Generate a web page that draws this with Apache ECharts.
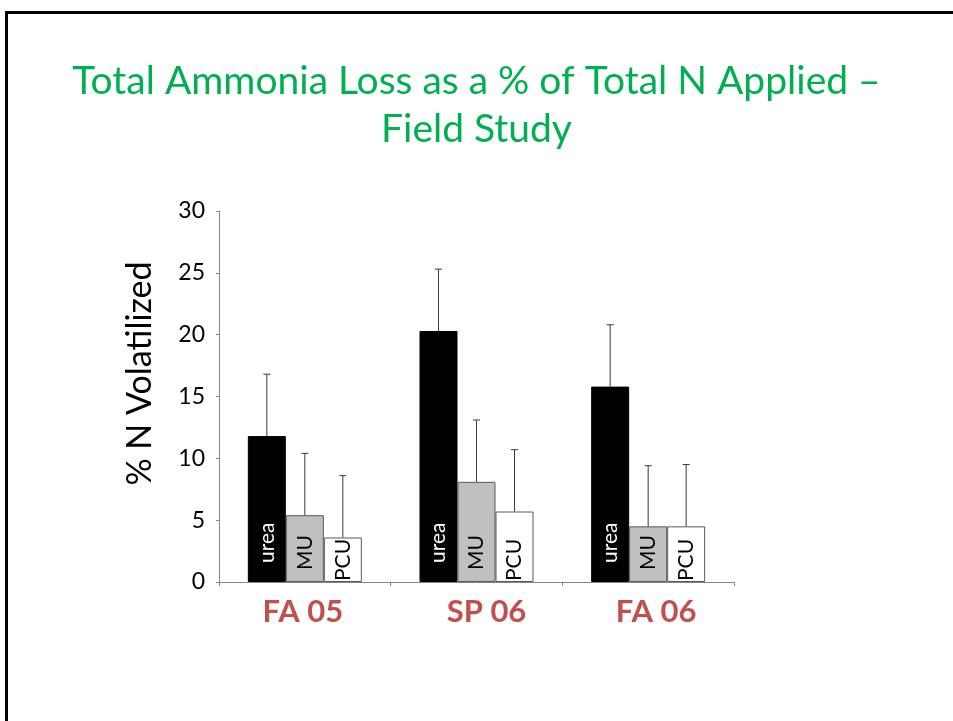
<!DOCTYPE html>
<html>
<head>
<meta charset="utf-8">
<title>Total Ammonia Loss</title>
<script src="https://cdn.jsdelivr.net/npm/echarts@6/dist/echarts.min.js"></script>
<style>
  html, body {
    margin: 0;
    padding: 0;
    background: #fff;
    overflow: hidden;
  }
  .slide-border {
    position: absolute;
    left: 5px;
    top: 11px;
    width: 2000px;
    height: 2000px;
    border-top: 3px solid #000;
    border-left: 3px solid #000;
  }
  #chart {
    position: absolute;
    left: 0;
    top: 0;
    width: 953px;
    height: 721px;
  }
</style>
</head>
<body>
<div class="slide-border"></div>
<div id="chart"></div>
<script>
const categories = ['FA 05', 'SP 06', 'FA 06']
const seriesNames = ['urea', 'MU', 'PCU']

const ureaValues = [11.8, 20.3, 15.8]
const muValues = [5.4, 8.1, 4.5]
const pcuValues = [3.6, 5.7, 4.5]

// upper error (SE), only drawn above the bar
const ureaErr = [5.0, 5.0, 5.0]
const muErr = [5.0, 5.0, 4.9]
const pcuErr = [5.0, 5.0, 5.0]

const yTicks = { min: 0, max: 30, interval: 5 }

const font = 'Lato'
const barWidth = 38
const barColors = ['#000000', '#c0c0c0', '#ffffff']
const labelColors = ['#ffffff', '#000000', '#000000']
const labelDistance = [19, 12, 1]

const allValues = [ureaValues, muValues, pcuValues]
const allErr = [ureaErr, muErr, pcuErr]

const chart = echarts.init(document.getElementById('chart'))

const barSeries = seriesNames.map((name, k) => ({
  name: name,
  type: 'bar',
  barWidth: barWidth,
  barGap: 0,
  data: allValues[k],
  itemStyle: {
    color: barColors[k],
    borderColor: k === 0 ? '#000' : '#595959',
    borderWidth: 1
  },
  label: {
    show: true,
    position: 'insideBottom',
    distance: labelDistance[k],
    rotate: 90,
    align: 'left',
    verticalAlign: 'middle',
    formatter: name,
    color: labelColors[k],
    fontFamily: font,
    fontSize: 21
  },
  silent: true
}))

// error bars: [category, value, value + err, series index]
const errData = []
allValues.forEach((vals, k) => {
  vals.forEach((v, i) => {
    errData.push([i, v, v + allErr[k][i], k])
  })
})

const errSeries = {
  type: 'custom',
  z: 5,
  silent: true,
  data: errData,
  encode: { x: 0, y: [1, 2] },
  renderItem: function (params, api) {
    const k = api.value(3)
    const low = api.coord([api.value(0), api.value(1)])
    const high = api.coord([api.value(0), api.value(2)])
    const x = low[0] + (k - 1) * barWidth
    const cap = 3.5
    const style = { stroke: '#3a3a3a', lineWidth: 1 }
    return {
      type: 'group',
      children: [
        { type: 'line', shape: { x1: x, y1: low[1], x2: x, y2: high[1] }, style: style },
        { type: 'line', shape: { x1: x - cap, y1: high[1], x2: x + cap, y2: high[1] }, style: style }
      ]
    }
  }
}

// small per-label nudges so the season labels sit like the slide
const catPad = [[0, 4, 0, 0], [0, 0, 0, 20], [0, 0, 0, 16]]
const catRich = {}
catPad.forEach((p, i) => {
  catRich['c' + i] = {
    padding: p,
    color: '#c0504d',
    fontFamily: font,
    fontWeight: 'bold',
    fontSize: 31
  }
})

chart.setOption({
  animation: false,
  title: {
    text: 'Total Ammonia Loss as a % of Total N Applied –\nField Study',
    left: 'center',
    top: 52,
    textStyle: {
      color: '#00b050',
      fontFamily: font,
      fontWeight: 'normal',
      fontSize: 39,
      lineHeight: 48
    }
  },
  grid: {
    left: 219,
    right: 219,
    top: 211,
    bottom: 139
  },
  xAxis: {
    type: 'category',
    data: categories,
    axisLine: { lineStyle: { color: '#868686', width: 1 } },
    axisTick: { show: true, length: 4, lineStyle: { color: '#868686' } },
    axisLabel: {
      margin: 14,
      formatter: (v, i) => '{c' + i + '|' + v + '}',
      rich: catRich
    }
  },
  yAxis: {
    type: 'value',
    min: yTicks.min,
    max: yTicks.max,
    interval: yTicks.interval,
    name: '% N Volatilized',
    nameLocation: 'middle',
    nameRotate: 90,
    nameGap: 62,
    nameTextStyle: {
      color: '#000',
      fontFamily: font,
      fontSize: 34,
      padding: [0, 0, 0, 46]
    },
    axisLine: { show: true, lineStyle: { color: '#868686', width: 1 } },
    axisTick: { show: true, length: 3, lineStyle: { color: '#868686' } },
    splitLine: { show: false },
    axisLabel: {
      color: '#000',
      fontFamily: font,
      fontSize: 23,
      margin: 14
    }
  },
  series: [...barSeries, errSeries]
})
</script>
</body>
</html>
